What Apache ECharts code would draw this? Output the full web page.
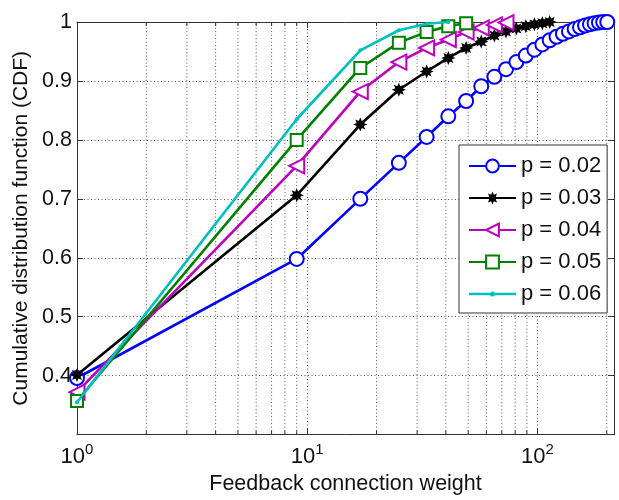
<!DOCTYPE html>
<html><head><meta charset="utf-8">
<script src="https://cdn.jsdelivr.net/npm/echarts@6/dist/echarts.min.js"></script>
<style>html,body{margin:0;padding:0;background:#fff}#c{width:619px;height:500px}</style>
</head><body><div id="c"></div>
<script>
// ---- data ----
const seriesNames = ['p = 0.02', 'p = 0.03', 'p = 0.04', 'p = 0.05', 'p = 0.06'];
const weights02 = [1,9,17,25,33,41,49,57,65,73,81,89,97,105,113,121,129,137,145,153,161,169,177,185,193,201];
const cdf02 = [0.396,0.598,0.700,0.761,0.805,0.840,0.866,0.891,0.907,0.920,0.932,0.943,0.953,0.962,0.969,0.975,0.980,0.984,0.988,0.991,0.994,0.996,0.998,0.999,1.000,1.000];
const weights03 = [1,9,17,25,33,41,49,57,65,73,81,89,97,105,113];
const cdf03 = [0.401,0.706,0.826,0.885,0.916,0.939,0.956,0.967,0.977,0.984,0.989,0.993,0.996,0.998,1.000];
const weights04 = [1,9,17,25,33,41,49,57,65,73];
const cdf04 = [0.372,0.756,0.882,0.932,0.956,0.970,0.983,0.990,0.995,0.999];
const weights05 = [1,9,17,25,33,41,49];
const cdf05 = [0.357,0.800,0.922,0.965,0.983,0.993,0.998];
const weights06 = [1,9,17,25,33,41];
const cdf06 = [0.355,0.835,0.952,0.986,0.997,1.000];
const xMin = 1, xMax = 215;
const yMin = 0.3, yMax = 1;
const yTicks = [0.4, 0.5, 0.6, 0.7, 0.8, 0.9, 1];
const minorX = [2,3,4,5,6,7,8,9,20,30,40,50,60,70,80,90,200];

// ---- styles ----
const FONT = "'Liberation Sans', Arial, sans-serif";
const colors = ['#0000ff', '#000000', '#bf00bf', '#008000', '#00bfbf'];
function starPath(n, rIn) {
  let d = '';
  for (let i = 0; i < 2 * n; i++) {
    const r = i % 2 === 0 ? 1 : rIn;
    const a = Math.PI * i / n - Math.PI / 2;
    d += (i === 0 ? 'M' : 'L') + (r * Math.cos(a)).toFixed(3) + ' ' + (r * Math.sin(a)).toFixed(3) + ' ';
  }
  return 'path://' + d + 'Z';
}
const symbols = ['emptyCircle', starPath(8, 0.55), 'emptyTriangle', 'emptyRect', 'circle'];
const symbolSizes = [14, 14, 15, 12, 4];
const symbolRotates = [0, 0, 90, 0, 0];
const xs = [weights02, weights03, weights04, weights05, weights06];
const ys = [cdf02, cdf03, cdf04, cdf05, cdf06];
// legend icon for the dot-marker series: line + small dot (47x16 box)
const dotLegendIcon = 'path://M0 0L0.01 0L0 0.01Z M0 16L0.01 16L0 15.99Z M0 6.7H47V9.3H0Z M21 8A2.5 2.5 0 1 1 26 8A2.5 2.5 0 1 1 21 8Z';

const lineSeries = seriesNames.map((name, i) => ({
  name: name,
  type: 'line',
  data: xs[i].map((x, k) => [x, ys[i][k]]),
  symbol: symbols[i],
  symbolSize: symbolSizes[i],
  symbolRotate: symbolRotates[i],
  showAllSymbol: true,
  clip: false,
  z: 3 + i,
  lineStyle: { color: colors[i], width: 2.6 },
  itemStyle: { color: colors[i], borderColor: colors[i], borderWidth: (i === 1 || i === 4) ? 0 : 3 },
  emphasis: { disabled: true }
}));

const gridStyle = { color: '#555', width: 1, type: [1, 2.5] };

const chart = echarts.init(document.getElementById('c'), null, { renderer: 'canvas' });
chart.setOption({
  animation: false,
  backgroundColor: '#fff',
  grid: { left: 77, right: 5, top: 22, bottom: 56 },
  legend: {
    data: seriesNames.map((n, i) => i === 4 ? { name: n, icon: dotLegendIcon } : { name: n }),
    orient: 'vertical',
    left: 459, top: 145,
    padding: [10, 6, 8, 9],
    itemWidth: 47, itemHeight: 16, itemGap: 10,
    backgroundColor: '#fff', borderColor: '#333', borderWidth: 1, borderRadius: 0,
    textStyle: { fontSize: 22, lineHeight: 22, fontFamily: FONT, color: '#111' },
    z: 20
  },
  xAxis: [{
    type: 'log', logBase: 10, min: xMin, max: xMax,
    name: 'Feedback connection weight', nameLocation: 'middle', nameGap: 36,
    nameTextStyle: { fontSize: 21.5, fontFamily: FONT, color: '#111' },
    axisLine: { show: true, lineStyle: { color: '#333', width: 1 } },
    axisTick: { show: true, inside: true, length: 6, lineStyle: { color: '#333' } },
    splitLine: { show: true, lineStyle: gridStyle },
    axisLabel: {
      margin: 8, color: '#111', fontFamily: FONT,
      formatter: function (v) {
        const e = Math.log10(v);
        if (Math.abs(e - Math.round(e)) > 1e-6) return '';
        return '{n|10}{s|' + Math.round(e) + '}';
      },
      rich: {
        n: { fontSize: 22, fontFamily: FONT, color: '#111' },
        s: { fontSize: 15, fontFamily: FONT, color: '#111', padding: [0, 0, 14, 0] }
      }
    }
  }, {
    type: 'log', logBase: 10, min: xMin, max: xMax, position: 'top',
    axisLine: { show: true, lineStyle: { color: '#333', width: 1 } },
    axisTick: { show: true, inside: true, length: 6, lineStyle: { color: '#333' } },
    axisLabel: { show: false }, splitLine: { show: false }
  }],
  yAxis: [{
    type: 'value', min: yMin, max: yMax, interval: 0.1,
    name: 'Cumulative distribution function (CDF)', nameLocation: 'middle', nameGap: 43,
    nameTextStyle: { fontSize: 21, fontFamily: FONT, color: '#111' },
    axisLine: { show: true, lineStyle: { color: '#333', width: 1 } },
    axisTick: { show: true, inside: true, length: 6, lineStyle: { color: '#333' } },
    splitLine: { show: true, lineStyle: gridStyle },
    axisLabel: {
      margin: 5, fontSize: 21.5, fontFamily: FONT, color: '#111',
      formatter: function (v) {
        for (const t of yTicks) if (Math.abs(t - v) < 1e-6) return String(t);
        return '';
      }
    }
  }, {
    type: 'value', min: yMin, max: yMax, interval: 0.1, position: 'right',
    axisLine: { show: true, lineStyle: { color: '#333', width: 1 } },
    axisTick: { show: true, inside: true, length: 6, lineStyle: { color: '#333' } },
    axisLabel: { show: false }, splitLine: { show: false }
  }],
  series: [{
    name: 'minor',
    type: 'custom',
    silent: true,
    z: 1,
    clip: false,
    data: minorX.map(x => [x, yMin]),
    encode: { x: 0, y: 1 },
    renderItem: function (params, api) {
      const x = api.value(0);
      const top = api.coord([x, yMax]);
      const bot = api.coord([x, yMin]);
      return {
        type: 'group',
        children: [
          { type: 'line', shape: { x1: bot[0], y1: bot[1], x2: top[0], y2: top[1] }, style: { stroke: '#555', lineWidth: 1, lineDash: [1, 2.5] } },
          { type: 'line', shape: { x1: bot[0], y1: bot[1], x2: bot[0], y2: bot[1] - 4 }, style: { stroke: '#333', lineWidth: 1 } },
          { type: 'line', shape: { x1: top[0], y1: top[1], x2: top[0], y2: top[1] + 4 }, style: { stroke: '#333', lineWidth: 1 } }
        ]
      };
    }
  }].concat(lineSeries)
});
</script>
</body></html>
